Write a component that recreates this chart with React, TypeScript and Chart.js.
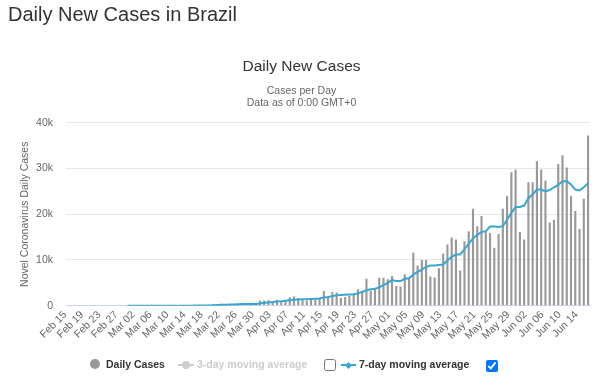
import React, { useEffect, useRef } from "react";
import { Chart, registerables } from "chart.js";

Chart.register(...registerables);

const FONT = "'Liberation Sans', Arial, Helvetica, sans-serif";

const dateLabels: string[] = [
  "Feb 15", "Feb 16", "Feb 17", "Feb 18", "Feb 19", "Feb 20", "Feb 21", "Feb 22", "Feb 23", "Feb 24",
  "Feb 25", "Feb 26", "Feb 27", "Feb 28", "Feb 29",
  "Mar 01", "Mar 02", "Mar 03", "Mar 04", "Mar 05", "Mar 06", "Mar 07", "Mar 08", "Mar 09", "Mar 10",
  "Mar 11", "Mar 12", "Mar 13", "Mar 14", "Mar 15", "Mar 16", "Mar 17", "Mar 18", "Mar 19", "Mar 20",
  "Mar 21", "Mar 22", "Mar 23", "Mar 24", "Mar 25", "Mar 26", "Mar 27", "Mar 28", "Mar 29", "Mar 30",
  "Mar 31",
  "Apr 01", "Apr 02", "Apr 03", "Apr 04", "Apr 05", "Apr 06", "Apr 07", "Apr 08", "Apr 09", "Apr 10",
  "Apr 11", "Apr 12", "Apr 13", "Apr 14", "Apr 15", "Apr 16", "Apr 17", "Apr 18", "Apr 19", "Apr 20",
  "Apr 21", "Apr 22", "Apr 23", "Apr 24", "Apr 25", "Apr 26", "Apr 27", "Apr 28", "Apr 29", "Apr 30",
  "May 01", "May 02", "May 03", "May 04", "May 05", "May 06", "May 07", "May 08", "May 09", "May 10",
  "May 11", "May 12", "May 13", "May 14", "May 15", "May 16", "May 17", "May 18", "May 19", "May 20",
  "May 21", "May 22", "May 23", "May 24", "May 25", "May 26", "May 27", "May 28", "May 29", "May 30",
  "May 31",
  "Jun 01", "Jun 02", "Jun 03", "Jun 04", "Jun 05", "Jun 06", "Jun 07", "Jun 08", "Jun 09", "Jun 10",
  "Jun 11", "Jun 12", "Jun 13", "Jun 14", "Jun 15", "Jun 16",
];

const dailyCases: (number | null)[] = [
  null, null, null, null, null, null, null, null, null, null, null, null, null, null,
  1,
  0, 0, 0, 2, 4, 5, 6, 6, 0, 9,
  18, 25, 21, 23, 79, 34, 57, 137, 193, 283,
  224, 418, 345, 310, 232, 482, 502, 487, 352, 323,
  1138,
  1119, 1208, 1012, 1304, 770, 1031, 1873, 2000, 1700, 1500,
  1100, 1300, 1300, 1700, 3200, 1800, 3000, 2900, 1700, 1900,
  2200, 2600, 3600, 3300, 5900, 3300, 3800, 6100, 6100, 5800,
  6500, 4300, 4200, 6900, 6000, 11600, 8800, 10000, 10000, 6400,
  6200, 8200, 11400, 13400, 14900, 14500, 7700, 14100, 16300, 21200,
  17400, 19600, 16200, 15900, 12700, 15700, 21200, 24000, 29200, 29800,
  16100,
  14500, 27000, 27000, 31600, 29800, 27400, 18200, 18800, 31000, 32900,
  30200, 24000, 20700, 16800, 23400, 37200,
];

const movingAvg7: (number | null)[] = [
  null, null, null, null, null, null, null, null, null, null, null, null, null, null,
  1,
  1, 0, 0, 1, 1, 2, 2, 3, 3, 5,
  7, 10, 12, 15, 25, 30, 37, 54, 78, 115,
  144, 192, 237, 273, 286, 328, 359, 397, 387, 384,
  502,
  629, 733, 806, 922, 982, 1083, 1188, 1310, 1380, 1420,
  1430, 1470, 1510, 1570, 1800, 1900, 2100, 2300, 2350, 2400,
  2450, 2500, 2700, 3000, 3400, 3600, 3700, 4000, 4500, 5000,
  5600, 5400, 5400, 5900, 6000, 6800, 7400, 7900, 8500, 8800,
  8800, 8900, 9000, 9900, 10700, 11200, 11200, 12300, 13600, 14700,
  15500, 16100, 16300, 17300, 17300, 17200, 17400, 18800, 20300, 21600,
  21600,
  21900, 23500, 24300, 25400, 25400, 25000, 25300, 25900, 26400, 27200,
  27200, 26500, 25400, 25200, 25900, 26800,
];

const yTicks: number[] = [0, 10000, 20000, 30000, 40000];

const BAR_COLOR = "#999999";
const LINE_COLOR = "#38a6d3";

export default function App() {
  const ref = useRef<HTMLCanvasElement>(null);

  useEffect(() => {
    const chart = new Chart(ref.current as HTMLCanvasElement, {
      type: "bar",
      data: {
        labels: dateLabels,
        datasets: [
          {
            type: "line",
            label: "7-day moving average",
            data: movingAvg7,
            borderColor: LINE_COLOR,
            backgroundColor: LINE_COLOR,
            borderWidth: 2,
            pointRadius: 0,
            tension: 0,
            order: 0,
          } as any,
          {
            type: "bar",
            label: "Daily Cases",
            data: dailyCases,
            backgroundColor: BAR_COLOR,
            barPercentage: 0.5,
            categoryPercentage: 1,
            order: 1,
          } as any,
        ],
      },
      options: {
        animation: false,
        responsive: false,
        devicePixelRatio: 1,
        layout: { padding: { left: 10, right: 7, top: 0, bottom: 45 } },
        plugins: {
          legend: { display: false },
          tooltip: { enabled: false },
          title: {
            display: true,
            text: "Daily New Cases",
            color: "#333333",
            font: { family: FONT, size: 15.5, weight: "normal", lineHeight: 1.2 },
            padding: { top: 57, bottom: 9 },
          },
          subtitle: {
            display: true,
            text: ["Cases per Day", "Data as of 0:00 GMT+0"],
            color: "#666666",
            font: { family: FONT, size: 10.5, lineHeight: 1.15 },
            padding: { top: 0, bottom: 14 },
          },
        },
        scales: {
          x: {
            grid: { display: false, drawTicks: false },
            border: { display: true, color: "#ccd6eb" },
            ticks: {
              autoSkip: false,
              maxRotation: 45,
              minRotation: 45,
              padding: 3,
              labelOffset: -3,
              color: "#666666",
              font: { family: FONT, size: 10.5 },
              callback: (_v: any, i: number) => (i % 4 === 0 ? dateLabels[i] : ""),
            },
          },
          y: {
            min: yTicks[0],
            max: yTicks[yTicks.length - 1],
            afterFit: (s: any) => {
              s.width = 56;
            },
            grid: { color: "#e6e6e6", drawTicks: false },
            border: { display: false },
            ticks: {
              stepSize: yTicks[1] - yTicks[0],
              padding: 13,
              color: "#666666",
              font: { family: FONT, size: 10.5 },
              callback: (v: any) => (v === 0 ? "0" : v / 1000 + "k"),
            },
            title: {
              display: true,
              text: "Novel Coronavirus Daily Cases",
              color: "#666666",
              font: { family: FONT, size: 10.5 },
              padding: { top: 9, bottom: 0 },
            },
          },
        },
      } as any,
    });
    return () => chart.destroy();
  }, []);

  const legendText: React.CSSProperties = {
    position: "absolute",
    top: 357,
    fontSize: 10.5,
    lineHeight: "14px",
    fontWeight: "bold",
    whiteSpace: "nowrap",
  };

  return (
    <div style={{ position: "absolute", left: 0, top: 0, width: 600, height: 390, fontFamily: FONT, background: "#fff" }}>
      <canvas ref={ref} width={600} height={390} style={{ position: "absolute", left: 0, top: 0, width: 600, height: 390 }} />
      <div style={{ position: "absolute", left: 8, top: 2, fontSize: 20, lineHeight: "24px", color: "#333333", whiteSpace: "nowrap" }}>
        Daily New Cases in Brazil
      </div>
      {/* legend */}
      <div style={{ position: "absolute", left: 90, top: 359, width: 10, height: 10, borderRadius: "50%", background: BAR_COLOR }} />
      <div style={{ ...legendText, left: 106, color: "#333333" }}>Daily Cases</div>

      <div style={{ position: "absolute", left: 178, top: 364, width: 16, height: 2, background: "#cccccc" }} />
      <div style={{ position: "absolute", left: 182, top: 361, width: 8, height: 8, borderRadius: "50%", background: "#cccccc" }} />
      <div style={{ ...legendText, left: 197, color: "#cccccc" }}>3-day moving average</div>
      <input type="checkbox" readOnly style={{ position: "absolute", left: 324, top: 359, width: 12, height: 12, margin: 0 }} />

      <div style={{ position: "absolute", left: 341, top: 364, width: 15, height: 2, background: LINE_COLOR }} />
      <div style={{ position: "absolute", left: 345.5, top: 362.5, width: 5, height: 5, background: LINE_COLOR, transform: "rotate(45deg)" }} />
      <div style={{ ...legendText, left: 359, color: "#333333" }}>7-day moving average</div>
      <input type="checkbox" checked readOnly style={{ position: "absolute", left: 486, top: 360, width: 12, height: 12, margin: 0 }} />
    </div>
  );
}
